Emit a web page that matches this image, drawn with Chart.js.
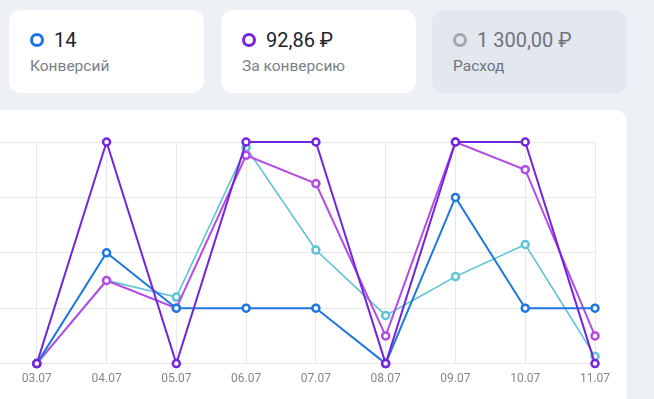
<!DOCTYPE html>
<html>
<head>
<meta charset="utf-8">
<script src="https://cdn.jsdelivr.net/npm/chart.js@4"></script>
<style>
    html, body {
        margin: 0;
        padding: 0;
        width: 654px;
        height: 399px;
        overflow: hidden;
        background: #edf0f5;
        font-family: Roboto, 'Noto Sans', sans-serif;
    }
    .card {
        position: absolute;
        top: 10px;
        height: 83px;
        width: 195px;
        border-radius: 12px;
        background: #ffffff;
    }
    .card.muted {
        background: #e3e7ee;
    }
    .ring {
        position: absolute;
        left: 21px;
        top: 23px;
        width: 8px;
        height: 8px;
        border-radius: 50%;
        border: 3px solid #1a73e8;
    }
    .value {
        position: absolute;
        left: 45px;
        top: 18px;
        font-size: 20px;
        color: #21242b;
    }
    .label {
        position: absolute;
        left: 21px;
        top: 47px;
        font-size: 15.5px;
        color: #7b8089;
    }
    .muted .value { color: #6e7480; }
    .muted .label { color: #6e7480; }
    #chart-card {
        position: absolute;
        left: -60px;
        top: 110px;
        width: 687px;
        height: 300px;
        background: #ffffff;
        border-radius: 12px;
    }
    #chart-box {
        position: absolute;
        left: 0;
        top: 0;
        width: 687px;
        height: 289px;
    }
</style>
</head>
<body>
<div class="card" style="left:9px">
    <div class="ring" style="border-color:#1a73e8"></div>
    <div class="value">14</div>
    <div class="label">Конверсий</div>
</div>
<div class="card" style="left:221px">
    <div class="ring" style="border-color:#7b22e0"></div>
    <div class="value">92,86 ₽</div>
    <div class="label">За конверсию</div>
</div>
<div class="card muted" style="left:432px">
    <div class="ring" style="border-color:#a2a7b0"></div>
    <div class="value">1 300,00 ₽</div>
    <div class="label">Расход</div>
</div>

<div id="chart-card">
    <div id="chart-box"><canvas id="stats-chart"></canvas></div>
</div>

<script>
// Dates (first slot is empty, it sits left of the visible area)
const days = ['', '03.07', '04.07', '05.07', '06.07', '07.07', '08.07', '09.07', '10.07', '11.07'];

// Series values (grid step = 1)
const purpleValues = [null, 0, 4, 0, 4, 4, 0, 4, 4, 0];
const blueValues = [null, 0, 2, 1, 1, 1, 0, 3, 1, 1];
const magentaValues = [null, 0, 1.5, 1.0, 3.76, 3.25, 0.5, 4, 3.5, 0.5];
const cyanValues = [null, 0, 1.5, 1.2, 3.9, 2.05, 0.87, 1.57, 2.15, 0.13];

const yTicks = [0, 1, 2, 3, 4];

function lineSet(label, data, color, width) {
    return {
        label: label,
        data: data,
        borderColor: color,
        backgroundColor: '#ffffff',
        borderWidth: width,
        pointRadius: 3.5,
        pointBorderWidth: 2.5,
        pointBackgroundColor: '#ffffff',
        pointBorderColor: color,
        tension: 0,
        fill: false,
        clip: false
    };
}

const ctx = document.getElementById('stats-chart');
new Chart(ctx, {
    type: 'line',
    data: {
        labels: days,
        datasets: [
            lineSet('Purple', purpleValues, '#7424dc', 2),
            lineSet('Blue', blueValues, '#1f78de', 2),
            lineSet('Magenta', magentaValues, '#b44ce4', 2),
            lineSet('Cyan', cyanValues, '#5cc4d4', 1.6)
        ]
    },
    options: {
        responsive: true,
        maintainAspectRatio: false,
        animation: false,
        layout: {
            padding: { left: 27, right: 32, top: 32, bottom: 5 }
        },
        scales: {
            x: {
                offset: false,
                grid: { color: '#e8e8ec', drawTicks: false },
                border: { display: false },
                ticks: {
                    padding: 8,
                    color: '#84878e',
                    font: { family: 'Roboto', size: 12 },
                    maxRotation: 0,
                    autoSkip: false
                }
            },
            y: {
                min: yTicks[0],
                max: yTicks[yTicks.length - 1],
                afterBuildTicks: function(scale) {
                    scale.ticks = yTicks.map(v => ({ value: v }));
                },
                grid: { color: '#e8e8ec', drawTicks: false },
                border: { display: false },
                ticks: { display: false }
            }
        },
        plugins: {
            legend: { display: false },
            tooltip: { enabled: false }
        }
    }
});
</script>
</body>
</html>
